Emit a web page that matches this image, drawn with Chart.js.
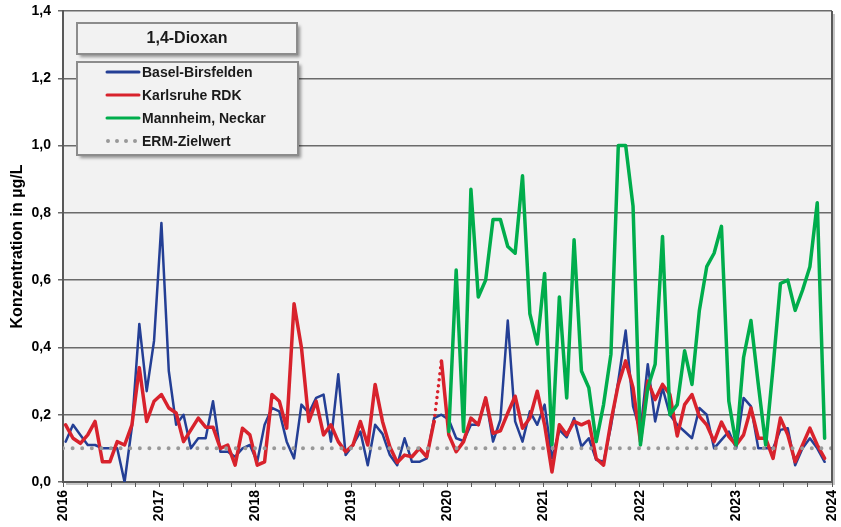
<!DOCTYPE html>
<html>
<head>
<meta charset="utf-8">
<script src="https://cdn.jsdelivr.net/npm/chart.js@4.4.1/dist/chart.umd.min.js"></script>
<style>
    html, body {margin: 0; padding: 0; background: #fff;}
    #dioxan {display: block;}
</style>
</head>
<body>
<canvas id="dioxan" width="841" height="527"></canvas>
<script>
// 4-woechentliche Mischproben ab Januar 2016
const firstSample = Date.UTC(2016, 0, 11)
const sampleInterval = 28 // Tage
const sampleCount = 104

const basel = [
    0.12, 0.17, 0.14, 0.11, 0.11, 0.10, 0.10, 0.10, 0.00, 0.165, 0.47, 0.27, 0.42,
    0.77, 0.33, 0.17, 0.20, 0.10, 0.13, 0.13, 0.24, 0.09, 0.09, 0.075, 0.10, 0.11,
    0.06, 0.17, 0.22, 0.21, 0.12, 0.07, 0.23, 0.205, 0.25, 0.26, 0.12, 0.32, 0.08,
    0.11, 0.15, 0.05, 0.17, 0.143, 0.08, 0.05, 0.13, 0.06, 0.06, 0.07, 0.19, 0.20,
    0.185, 0.13, 0.122, 0.17, 0.17, 0.25, 0.12, 0.185, 0.48, 0.18, 0.12, 0.21, 0.17,
    0.23, 0.07, 0.155, 0.133, 0.19, 0.105, 0.13, 0.066, 0.06, 0.165, 0.30, 0.45, 0.225,
    0.15, 0.35, 0.18, 0.28, 0.20, 0.17, 0.15, 0.13, 0.22, 0.20, 0.10, 0.125, 0.15,
    0.10, 0.25, 0.225, 0.10, 0.10, 0.10, 0.155, 0.16, 0.05, 0.10, 0.13, 0.10, 0.06
]
const karlsruhe = [
    0.17, 0.13, 0.115, 0.14, 0.18, 0.06, 0.06, 0.12, 0.11, 0.17, 0.34, 0.18, 0.24,
    0.26, 0.22, 0.205, 0.12, 0.155, 0.19, 0.163, 0.163, 0.10, 0.11, 0.05, 0.16, 0.14,
    0.05, 0.06, 0.26, 0.24, 0.16, 0.53, 0.40, 0.18, 0.24, 0.14, 0.17, 0.12, 0.09,
    0.11, 0.18, 0.11, 0.29, 0.18, 0.105, 0.058, 0.08, 0.075, 0.10, 0.075, 0.18, 0.36,
    0.14, 0.09, 0.12, 0.19, 0.17, 0.25, 0.145, 0.152, 0.205, 0.255, 0.16, 0.19, 0.27,
    0.17, 0.03, 0.17, 0.14, 0.18, 0.17, 0.18, 0.07, 0.05, 0.18, 0.29, 0.36, 0.28,
    0.12, 0.30, 0.245, 0.29, 0.26, 0.137, 0.23, 0.26, 0.195, 0.17, 0.12, 0.178, 0.135,
    0.11, 0.14, 0.22, 0.13, 0.13, 0.07, 0.19, 0.14, 0.06, 0.11, 0.16, 0.11, 0.07
]
const mannheim = [
    null, null, null, null, null, null, null, null, null, null, null, null, null,
    null, null, null, null, null, null, null, null, null, null, null, null, null,
    null, null, null, null, null, null, null, null, null, null, null, null, null,
    null, null, null, null, null, null, null, null, null, null, null, null, null,
    0.15, 0.63, 0.15, 0.87, 0.55, 0.60, 0.78, 0.78, 0.70, 0.68, 0.91, 0.50, 0.41,
    0.62, 0.11, 0.55, 0.25, 0.72, 0.33, 0.28, 0.12, 0.23, 0.38, 1.00, 1.00, 0.82,
    0.11, 0.28, 0.35, 0.73, 0.20, 0.23, 0.39, 0.29, 0.51, 0.64, 0.68, 0.76, 0.24,
    0.11, 0.37, 0.48, 0.29, 0.11, 0.34, 0.59, 0.60, 0.51, 0.57, 0.64, 0.83, 0.13
]
const ermZielwert = 0.1
// Karlsruhe: Luecke Ende 2019, nur gepunktet verbunden
const karlsruheGap = 50

const yearTicks = [2016, 2017, 2018, 2019, 2020, 2021, 2022, 2023, 2024]
const seriesNames = ['Basel-Birsfelden', 'Karlsruhe RDK', 'Mannheim, Neckar', 'ERM-Zielwert']
const colors = ['#243f95', '#d8222c', '#00ad4c', '#999999']

let yearOf = (i) => {
    let t = firstSample + i * sampleInterval * 86400000
    return 2016 + (t - Date.UTC(2016, 0, 1)) / (365.25 * 86400000)
}
let toPoints = (values) => values.map((v, i) => ({x: yearOf(i), y: v}))

const FONT = 'Liberation Sans, Arial, sans-serif'

// Hintergrund, Schatten, Rahmen, Titel- und Legendenkasten
const framePlugin = {
    id: 'frame',
    beforeDraw(chart) {
        let {ctx, chartArea: a} = chart
        ctx.save()
        ctx.fillStyle = '#fff'
        ctx.fillRect(0, 0, chart.width, chart.height)
        ctx.fillStyle = '#c6c6c6'
        ctx.fillRect(a.left + 3, a.top + 3, a.width, a.height)
        ctx.fillStyle = '#f2f2f2'
        ctx.fillRect(a.left, a.top, a.width, a.height)
        ctx.restore()
    },
    afterDraw(chart) {
        let {ctx, chartArea: a} = chart
        ctx.save()
        ctx.strokeStyle = '#595959'
        ctx.lineWidth = 2
        ctx.beginPath()
        ctx.moveTo(a.right, a.top)
        ctx.lineTo(a.right, a.bottom)
        ctx.stroke()

        let box = (x, y, w, h) => {
            ctx.save()
            ctx.shadowColor = 'rgba(0,0,0,0.4)'
            ctx.shadowBlur = 3
            ctx.shadowOffsetX = 3
            ctx.shadowOffsetY = 3
            ctx.fillStyle = '#f2f2f2'
            ctx.fillRect(x, y, w, h)
            ctx.restore()
            ctx.strokeStyle = '#8c8c8c'
            ctx.lineWidth = 2
            ctx.strokeRect(x, y, w, h)
        }

        box(77, 23, 220, 31)
        ctx.fillStyle = '#1a1a1a'
        ctx.font = 'bold 16px ' + FONT
        ctx.textAlign = 'center'
        ctx.textBaseline = 'middle'
        ctx.fillText('1,4-Dioxan', 187, 39)

        box(77, 62, 221, 93)
        ctx.font = 'bold 14px ' + FONT
        ctx.textAlign = 'left'
        chart.data.datasets.forEach((ds, i) => {
            let y = 72 + i * 23
            ctx.beginPath()
            ctx.strokeStyle = ds.borderColor
            ctx.lineCap = 'round'
            if (i == 3) {
                ctx.lineWidth = 4
                ctx.setLineDash([0, 9])
                ctx.moveTo(108, y)
                ctx.lineTo(136, y)
            } else {
                ctx.lineWidth = 3
                ctx.setLineDash([])
                ctx.moveTo(107, y)
                ctx.lineTo(139, y)
            }
            ctx.stroke()
            ctx.setLineDash([])
            ctx.fillStyle = '#1a1a1a'
            ctx.fillText(ds.label, 142, y + 1)
        })
        ctx.restore()
    }
}

const config = {
    type: 'line',
    data: {
        datasets: [
            {
                label: seriesNames[0],
                data: toPoints(basel),
                borderColor: colors[0],
                borderWidth: 2.5,
                order: 3
            },
            {
                label: seriesNames[1],
                data: toPoints(karlsruhe),
                borderColor: colors[1],
                borderWidth: 3.5,
                order: 2,
                segment: {
                    borderDash: ctx => ctx.p0DataIndex === karlsruheGap ? [0, 6] : undefined
                }
            },
            {
                label: seriesNames[2],
                data: toPoints(mannheim),
                borderColor: colors[2],
                borderWidth: 3.5,
                order: 1
            },
            {
                label: seriesNames[3],
                data: [{x: yearTicks[0], y: ermZielwert}, {x: yearTicks[yearTicks.length - 1], y: ermZielwert}],
                borderColor: colors[3],
                borderWidth: 4,
                borderDash: [0, 9.6],
                order: 0
            }
        ]
    },
    options: {
        responsive: false,
        animation: false,
        layout: {padding: {top: 11, right: 9, left: 0, bottom: 0}},
        elements: {
            point: {radius: 0},
            line: {tension: 0, borderCapStyle: 'round', borderJoinStyle: 'round'}
        },
        plugins: {
            legend: {display: false},
            tooltip: {enabled: false},
            title: {display: false}
        },
        scales: {
            x: {
                type: 'linear',
                min: yearTicks[0],
                max: yearTicks[yearTicks.length - 1],
                afterBuildTicks: (axis) => {
                    let t = []
                    for (let q = 0; q <= (yearTicks.length - 1) * 4; q++) t.push({value: yearTicks[0] + q / 4})
                    axis.ticks = t
                },
                afterFit: (axis) => {
                    axis.height = 45
                    axis.paddingLeft = 0
                    axis.paddingRight = 0
                },
                ticks: {
                    autoSkip: false,
                    minRotation: 90,
                    maxRotation: 90,
                    padding: 3,
                    color: '#000',
                    font: {family: FONT, size: 14, weight: 'bold'},
                    callback: (v) => Number.isInteger(v) ? String(v) : ''
                },
                grid: {
                    display: true,
                    drawOnChartArea: false,
                    drawTicks: true,
                    tickLength: 5,
                    color: '#595959'
                },
                border: {display: true, color: '#595959', width: 2}
            },
            y: {
                min: 0,
                max: 1.4,
                afterFit: (axis) => {
                    axis.width = 63
                    axis.paddingTop = 0
                    axis.paddingBottom = 0
                },
                ticks: {
                    stepSize: 0.2,
                    padding: 7,
                    color: '#000',
                    font: {family: FONT, size: 14, weight: 'bold'},
                    callback: (v) => v.toFixed(1).replace('.', ',')
                },
                grid: {
                    color: '#6b6b6b',
                    lineWidth: 1.5,
                    tickLength: 5
                },
                border: {display: true, color: '#595959', width: 2},
                title: {
                    display: true,
                    text: 'Konzentration in µg/L',
                    color: '#000',
                    padding: {top: 8, bottom: 0},
                    font: {family: FONT, size: 16, weight: 'bold'}
                }
            }
        }
    },
    plugins: [framePlugin]
}

new Chart(document.getElementById('dioxan').getContext('2d'), config)
</script>
</body>
</html>
